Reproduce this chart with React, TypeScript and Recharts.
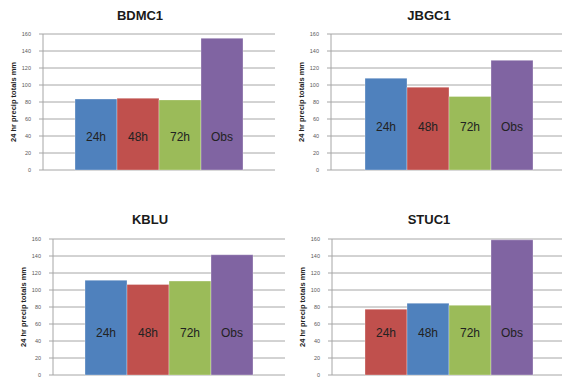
import React from "react";
import { Bar, BarChart, CartesianGrid, LabelList, XAxis, YAxis } from "recharts";

// forecast lead times + observation, one bar each per station
const seriesNames = ["24h", "48h", "72h", "Obs"];
const stations = ["BDMC1", "JBGC1", "KBLU", "STUC1"];
const run24h = [83.5, 108, 111.5, 77.5];
const run48h = [84.5, 97.5, 106.5, 84.5];
const run72h = [82.5, 86.5, 110.5, 82];
const observed = [155, 129, 141.5, 159];
const yTicks = [0, 20, 40, 60, 80, 100, 120, 140, 160];
const yLabel = "24 hr precip totals mm";

const BLUE = "#4f81bd";
const RED = "#c0504d";
const GREEN = "#9bbb59";
const PURPLE = "#8064a2";
const GRID = "#a6a6a6";
const FONT = "'Liberation Sans', Arial, sans-serif";

interface PanelLayout {
  left: number;
  top: number;
  width: number;
  height: number;
  axisWidth: number;
  margin: { top: number; right: number; bottom: number; left: number };
  titleX: number;
  titleY: number;
  colors: string[];
  labelLevel: number; // value at which the series names sit
}

const layouts: PanelLayout[] = [
  {
    left: 0, top: 0, width: 281, height: 190, axisWidth: 43,
    margin: { top: 34, right: 6, bottom: 20, left: 0 },
    titleX: 140, titleY: 16, colors: [BLUE, RED, GREEN, PURPLE], labelLevel: 39,
  },
  {
    left: 281, top: 0, width: 285, height: 190, axisWidth: 50,
    margin: { top: 34, right: 0, bottom: 20, left: 0 },
    titleX: 148, titleY: 16, colors: [BLUE, RED, GREEN, PURPLE], labelLevel: 51,
  },
  {
    left: 0, top: 190, width: 285, height: 193, axisWidth: 53,
    margin: { top: 49, right: 0, bottom: 8, left: 0 },
    titleX: 150, titleY: 30, colors: [BLUE, RED, GREEN, PURPLE], labelLevel: 49,
  },
  {
    left: 281, top: 190, width: 285, height: 193, axisWidth: 51,
    margin: { top: 49, right: 0, bottom: 8, left: 0 },
    titleX: 148, titleY: 30, colors: [RED, BLUE, GREEN, PURPLE], labelLevel: 49,
  },
];

const keys = ["h24", "h48", "h72", "obs"];

function seriesLabel(name: string, level: number) {
  return (props: any) => {
    const x = Number(props.x);
    const y = Number(props.y);
    const w = Number(props.width);
    const h = Number(props.height);
    const v = Number(props.value);
    if (!v) return null;
    const base = y + h;
    const ly = base - (level * h) / v;
    return (
      <text
        x={x + w / 2}
        y={ly}
        textAnchor="middle"
        dominantBaseline="central"
        fontFamily={FONT}
        fontSize={12}
        fill="#222"
      >
        {name}
      </text>
    );
  };
}

function AxisTitle(props: any) {
  const vb = props.viewBox || {};
  const cx = vb.x + vb.width - 30;
  const cy = vb.y + vb.height / 2;
  return (
    <text
      x={cx}
      y={cy}
      transform={`rotate(-90, ${cx}, ${cy})`}
      textAnchor="middle"
      dominantBaseline="central"
      fontFamily={FONT}
      fontSize={7.5}
      fontWeight="bold"
      fill="#222"
    >
      {yLabel}
    </text>
  );
}

function StationPanel({ index }: { index: number }) {
  const l = layouts[index];
  const data = [
    {
      station: stations[index],
      h24: run24h[index],
      h48: run48h[index],
      h72: run72h[index],
      obs: observed[index],
    },
  ];
  return (
    <div style={{ position: "absolute", left: l.left, top: l.top, width: l.width, height: l.height }}>
      <BarChart width={l.width} height={l.height} data={data} margin={l.margin} barGap={0} barSize={42}>
        <CartesianGrid vertical={false} stroke={GRID} />
        <XAxis dataKey="station" tick={false} tickLine={false} height={0} axisLine={{ stroke: GRID }} />
        <YAxis
          width={l.axisWidth}
          domain={[0, 160]}
          ticks={yTicks}
          interval={0}
          tickSize={4}
          tickMargin={8}
          tickLine={{ stroke: GRID }}
          axisLine={{ stroke: GRID }}
          tick={{ fontSize: 5.5, fill: "#595959", fontFamily: FONT }}
          label={<AxisTitle />}
        />
        {keys.map((k, i) => (
          <Bar
            key={k}
            dataKey={k}
            fill={l.colors[i]}
            stroke="rgba(255,255,255,0.3)"
            strokeWidth={1}
            isAnimationActive={false}
          >
            <LabelList dataKey={k} content={seriesLabel(seriesNames[i], l.labelLevel)} />
          </Bar>
        ))}
      </BarChart>
      <div
        style={{
          position: "absolute",
          left: l.titleX - 60,
          top: l.titleY - 8,
          width: 120,
          textAlign: "center",
          fontFamily: FONT,
          fontWeight: "bold",
          fontSize: 13,
          lineHeight: "16px",
          color: "#1a1a1a",
        }}
      >
        {stations[index]}
      </div>
    </div>
  );
}

export default function App() {
  return (
    <div
      style={{
        position: "absolute",
        left: 0,
        top: 0,
        width: 562,
        height: 383,
        overflow: "hidden",
        background: "#fff",
      }}
    >
      {stations.map((s, i) => (
        <StationPanel key={s} index={i} />
      ))}
    </div>
  );
}
